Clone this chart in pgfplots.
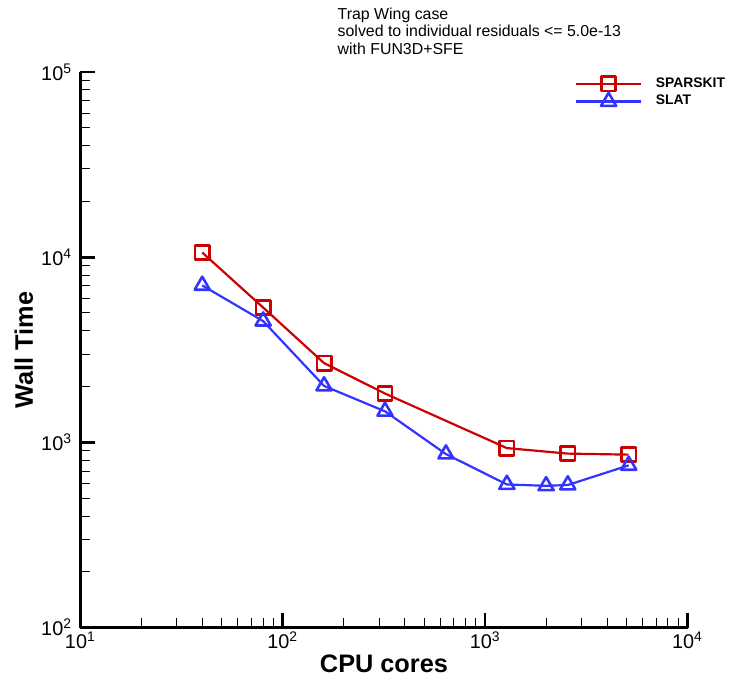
\documentclass[border=0pt]{standalone}
\usepackage{fontspec}
\setmainfont{Liberation Sans}
\usepackage{pgfplots}
\pgfplotsset{compat=1.18}
\definecolor{cred}{RGB}{204,0,0}
\definecolor{cblue}{RGB}{51,51,255}
\begin{document}
\begin{tikzpicture}
\begin{axis}[name=ax, scale only axis, width=306pt, height=280pt,
  xmode=log, ymode=log, xmin=10, xmax=10000, ymin=100, ymax=100000,
  axis x line*=bottom, axis y line*=left,
  axis line style={line width=1.2pt},
  tick align=inside,
  major tick length=7.2pt, minor tick length=4.8pt,
  major tick style={line width=1.3pt, black},
  minor tick style={line width=0.5pt, black},
  xtick={10,100,1000,10000},
  xticklabels={10\textsuperscript{1},10\textsuperscript{2},10\textsuperscript{3},10\textsuperscript{4}},
  minor xtick={20,30,40,50,60,70,80,90,200,300,400,500,600,700,800,900,2000,3000,4000,5000,6000,7000,8000,9000},
  ytick={100,1000,10000,100000},
  yticklabels={10\textsuperscript{2},10\textsuperscript{3},10\textsuperscript{4},10\textsuperscript{5}},
  minor ytick={200,300,400,500,600,700,800,900,2000,3000,4000,5000,6000,7000,8000,9000,20000,30000,40000,50000,60000,70000,80000,90000},
  ticklabel style={font=\fontsize{10}{12}\selectfont, inner sep=0pt},
  xticklabel style={yshift=-2pt},
  yticklabel style={xshift=-4pt},
  xlabel={CPU cores}, ylabel={Wall Time},
  label style={font=\bfseries\fontsize{12.75}{15}\selectfont},
  xlabel style={at={(axis description cs:0.5,-0.0804)}, anchor=base},
  ylabel style={at={(axis description cs:-0.0784,0.5)}, anchor=base},
  legend style={at={(axis description cs:0.8144,0.998)}, anchor=north west,
    draw=none, fill=none, inner sep=0pt, column sep=5pt, row sep=-1.5pt,
    font=\bfseries\fontsize{7}{8.5}\selectfont},
  legend cell align=left,
  legend image code/.code={\draw[mark repeat=2,mark phase=2,#1] plot coordinates {(0pt,0pt) (16.25pt,0pt) (32.5pt,0pt)};},
]
\addplot[cred, line width=1.1pt, line join=round, mark=square, mark size=3.6pt, mark options={solid, line width=1.3pt}]
  coordinates {(40,10600)(80,5350)(160,2680)(320,1837)(1280,932)(2560,870)(5120,859)};
\addplot[cblue, line width=1.1pt, line join=round, mark=triangle, mark size=4.4pt, mark options={solid, line width=1.3pt}]
  coordinates {(40,7047)(80,4519)(160,2018)(320,1472)(640,865)(1280,593)(2000,583)(2560,589)(5120,752)};
\legend{SPARSKIT,SLAT}
\end{axis}
\node[anchor=north west, inner sep=0pt, align=left, font=\fontsize{8}{8.75}\selectfont]
  at ([xshift=129.5pt, yshift=32.4pt]ax.north west)
  {Trap Wing case\\solved to individual residuals <= 5.0e-13\\with FUN3D+SFE};
\path[use as bounding box] ([xshift=-40.5pt, yshift=-24.65pt]ax.south west) rectangle ([xshift=18pt, yshift=36.3pt]ax.north east);
\end{tikzpicture}
\end{document}
